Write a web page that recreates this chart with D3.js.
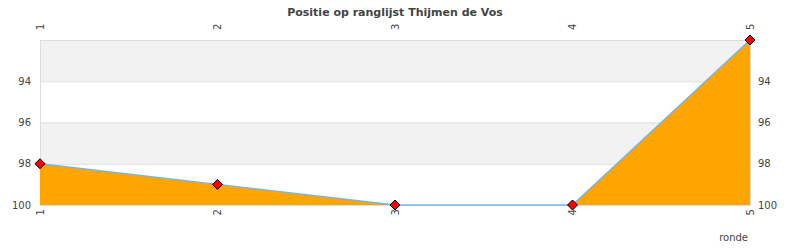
<!DOCTYPE html>
<html>
<head>
<meta charset="utf-8">
<script src="https://cdn.jsdelivr.net/npm/d3@7"></script>
<style>
  body { margin: 0; background: #fff; }
  text { font-family: "DejaVu Sans", sans-serif; fill: #444; }
</style>
</head>
<body>
<script>
const rounds = [1, 2, 3, 4, 5];
const positions = [98, 99, 100, 100, 92];
const yTicks = [94, 96, 98, 100];
const bands = [[92, 94], [96, 98]];

const W = 790, H = 250;
const margin = { top: 40, right: 40, bottom: 45, left: 40 };
const width = W - margin.left - margin.right;
const height = H - margin.top - margin.bottom;

const svg = d3.select('body').append('svg')
	.attr('width', W)
	.attr('height', H);

svg.append('text')
	.attr('x', W / 2)
	.attr('y', 16)
	.style('text-anchor', 'middle')
	.style('font-size', '11px')
	.style('font-weight', 'bold')
	.text('Positie op ranglijst Thijmen de Vos');

const g = svg.append('g')
	.attr('transform', `translate(${margin.left}, ${margin.top})`);

const x = d3.scaleLinear().domain([1, 5]).range([0, width]);
const y = d3.scaleLinear().domain([92, 100]).range([0, height]);

// background bands
g.selectAll('.band')
	.data(bands)
	.enter().append('rect')
	.attr('x', 0)
	.attr('y', d => y(d[0]))
	.attr('width', width)
	.attr('height', d => y(d[1]) - y(d[0]))
	.attr('fill', '#f2f2f2');

// grid lines
g.selectAll('.grid')
	.data([92].concat(yTicks))
	.enter().append('line')
	.attr('x1', 0).attr('x2', width)
	.attr('y1', d => y(d) + 0.5).attr('y2', d => y(d) + 0.5)
	.attr('stroke', '#dddddd');

g.append('line')
	.attr('x1', 0.5).attr('x2', 0.5)
	.attr('y1', 0).attr('y2', height)
	.attr('stroke', '#dddddd');
g.append('line')
	.attr('x1', width + 0.5).attr('x2', width + 0.5)
	.attr('y1', 0).attr('y2', height)
	.attr('stroke', '#dddddd');

const data = rounds.map((r, i) => ({ r: r, p: positions[i] }));

g.append('path')
	.datum(data)
	.attr('fill', '#ffa500')
	.attr('d', d3.area().x(d => x(d.r)).y0(y(100)).y1(d => y(d.p)));

g.append('path')
	.datum(data)
	.attr('fill', 'none')
	.attr('stroke', '#74b4ee')
	.attr('stroke-width', 1.5)
	.attr('d', d3.line().x(d => x(d.r)).y(d => y(d.p)));

g.selectAll('.marker')
	.data(data)
	.enter().append('path')
	.attr('transform', d => `translate(${x(d.r)}, ${y(d.p)})`)
	.attr('d', 'M0,-5L5,0L0,5L-5,0Z')
	.attr('fill', '#ff0000')
	.attr('stroke', '#000')
	.attr('stroke-width', 1);

// y labels left and right
g.selectAll('.yl')
	.data(yTicks)
	.enter().append('text')
	.attr('x', -9)
	.attr('y', d => y(d))
	.attr('dy', '0.35em')
	.style('text-anchor', 'end')
	.style('font-size', '10px')
	.text(d => d);

g.selectAll('.yr')
	.data(yTicks)
	.enter().append('text')
	.attr('x', width + 8)
	.attr('y', d => y(d))
	.attr('dy', '0.35em')
	.style('font-size', '10px')
	.text(d => d);

// x labels, rotated, top and bottom
g.selectAll('.xt')
	.data(rounds)
	.enter().append('text')
	.attr('transform', d => `translate(${x(d)}, -10) rotate(-90)`)
	.attr('dy', '0.35em')
	.style('font-size', '10px')
	.text(d => d);

g.selectAll('.xb')
	.data(rounds)
	.enter().append('text')
	.attr('transform', d => `translate(${x(d)}, ${height + 4}) rotate(-90)`)
	.attr('dy', '0.35em')
	.style('text-anchor', 'end')
	.style('font-size', '10px')
	.text(d => d);

svg.append('text')
	.attr('x', 748)
	.attr('y', 241)
	.style('text-anchor', 'end')
	.style('font-size', '10px')
	.text('ronde');
</script>
</body>
</html>
